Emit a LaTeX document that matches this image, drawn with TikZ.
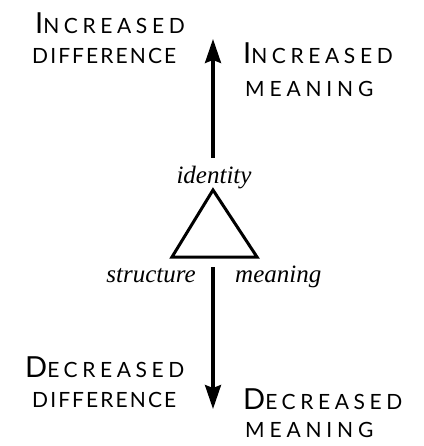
\documentclass[tikz,border=0pt]{standalone}
\usepackage{fontspec}
\setmainfont{Liberation Serif}
\newfontfamily\capsfont{Lato}[LetterSpace=10]
\newfontfamily\widecaps{Lato}[LetterSpace=22]
\newfontfamily\widercaps{Lato}[LetterSpace=23]
\usetikzlibrary{arrows.meta}
\newcommand{\initcap}[2]{{\capsfont\fontsize{29}{29}\selectfont #1}{\widecaps\fontsize{21}{21}\selectfont #2}}
\tikzset{
  caps/.style={anchor=base west, inner sep=0pt, font=\capsfont\fontsize{21}{21}\selectfont},
  ital/.style={inner sep=0pt, font=\fontsize{25}{25}\selectfont\itshape},
  bar/.style={line width=3.2pt, -{Stealth[length=24pt,width=16pt,inset=3pt]}}
}
\begin{document}
\begin{tikzpicture}[x=1pt,y=-1pt]
	\useasboundingbox (0,0) rectangle (423,446);

	% labels, upper half
	\node[caps] (incdiff) at (35,34) {\initcap{I}{NCREASED}};
	\node[caps] (incdiffb) at (32,64) {DIFFERENCE};
	\node[caps] (incmean) at (243,64) {\initcap{I}{NCREASED}};
	\node[caps] (incmeanb) at (245,97) {\widercaps MEANING};

	% labels, lower half
	\node[caps] (decdiff) at (25,377) {\initcap{D}{ECREASED}};
	\node[caps] (decdiffb) at (32,407) {DIFFERENCE};
	\node[caps] (decmean) at (243,409) {\initcap{D}{ECREASED}};
	\node[caps] (decmeanb) at (245,437) {\widercaps MEANING};

	% triangle
	\coordinate (apex) at (213,190);
	\coordinate (left) at (172,257);
	\coordinate (right) at (257,257);
	\draw[line width=3pt, line join=miter] (apex) -- (left) -- (right) -- cycle;

	\node[ital, anchor=base] (identity) at (214,183) {identity};
	\node[ital, anchor=base east] (structure) at (196,282) {structure};
	\node[ital, anchor=base west] (meaning) at (235,282) {meaning};

	% arrows
	\coordinate (upbot) at (213,158);
	\coordinate (uptop) at (213,39);
	\coordinate (dntop) at (213,267);
	\coordinate (dnbot) at (213,409);
	\draw[bar] (upbot) -- (uptop);
	\draw[bar] (dntop) -- (dnbot);

\end{tikzpicture}
\end{document}
